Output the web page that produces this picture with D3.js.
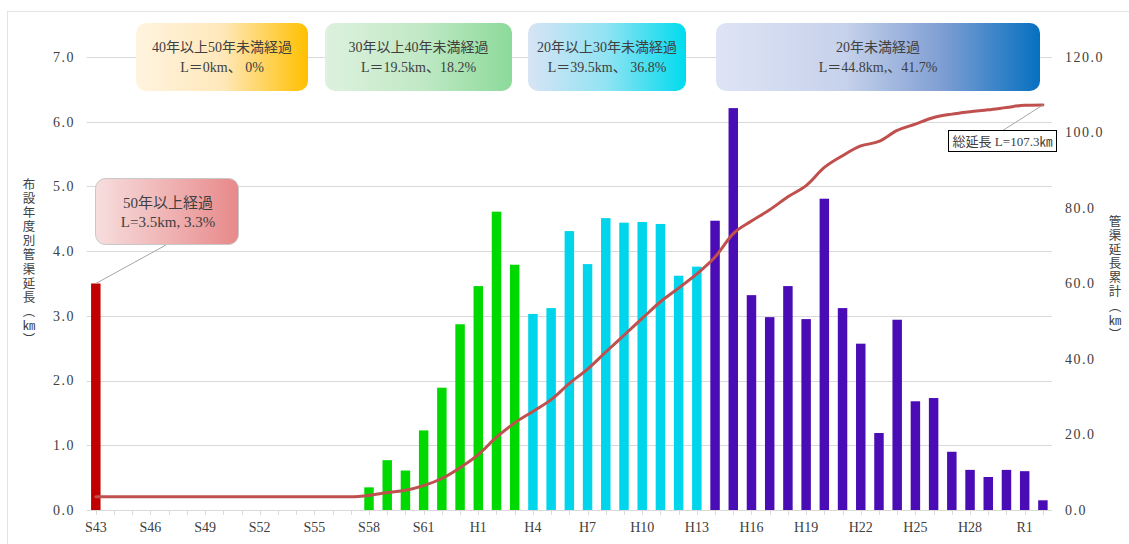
<!DOCTYPE html>
<html><head><meta charset="utf-8">
<script src="https://cdn.jsdelivr.net/npm/d3@7"></script>
<style>
body{margin:0;background:#fff}
svg{display:block}
text{font-family:"Liberation Serif","Noto Sans CJK JP",serif;fill:#404040}
</style>
</head><body>
<svg id="c" width="1129" height="544"></svg>
<script>
// ---- data ----
const categories = ["S43","S44","S45","S46","S47","S48","S49","S50","S51","S52","S53","S54","S55","S56","S57","S58","S59","S60","S61","S62","S63",
  "H1","H2","H3","H4","H5","H6","H7","H8","H9","H10","H11","H12","H13","H14","H15","H16","H17","H18","H19","H20","H21","H22","H23","H24","H25","H26","H27","H28","H29","H30","R1","R2"];
const lengthKm = [3.5,0,0,0,0,0,0,0,0,0,0,0,0,0,0,0.35,0.77,0.61,1.23,1.89,2.87,
  3.46,4.61,3.79,3.03,3.12,4.31,3.80,4.51,4.44,4.45,4.42,3.62,3.76,4.47,6.21,3.32,2.98,3.46,2.95,4.81,3.12,2.57,1.19,2.94,1.68,1.73,0.90,0.62,0.51,0.62,0.60,0.15];
const cumulativeKm = [3.5,3.5,3.5,3.5,3.5,3.5,3.5,3.5,3.5,3.5,3.5,3.5,3.5,3.5,3.5,3.85,4.62,5.23,6.46,8.35,11.22,
  14.68,19.29,23.08,26.11,29.23,33.54,37.34,41.85,46.29,50.74,55.16,58.78,62.54,67.01,73.22,76.54,79.52,82.98,85.93,90.74,93.86,96.43,97.62,100.56,102.24,103.97,104.87,105.49,106.00,106.62,107.22,107.3];
const groupStarts = ["S43","S58","H4","H14"];
const groupColors = ["#C00000","#00D900","#00D5EB","#4A0CB5"];
const leftTicks = [0,1,2,3,4,5,6,7];
const rightTicks = [0,20,40,60,80,100,120];
const leftTitle = "布設年度別管渠延長（㎞）";
const rightTitle = "管渠延長累計（㎞）";
const boxLines = [
  ["40年以上50年未満経過","L＝0km、 0%"],
  ["30年以上40年未満経過","L＝19.5km、18.2%"],
  ["20年以上30年未満経過","L＝39.5km、 36.8%"],
  ["20年未満経過","L＝44.8km,、41.7%"]
];
const over50Lines = ["50年以上経過","L=3.5km, 3.3%"];
const totalLabel = "総延長 L=107.3㎞";

// ---- layout ----
const svg = d3.select("#c");
const W = 1129, H = 544;
const pL = 86.7, pR = 1052, pT = 57, pB = 510;

svg.append("rect").attr("x",7.5).attr("y",11.5).attr("width",W).attr("height",H)
  .attr("fill","none").attr("stroke","#e4e4e4");

const x = d3.scaleBand().domain(categories).range([pL,pR]).paddingInner(0.48).paddingOuter(0.24);
const yL = d3.scaleLinear().domain([0,7]).range([pB,pT]);
const yR = d3.scaleLinear().domain([0,120]).range([pB,pT]);
const cx = c => x(c) + x.bandwidth()/2;

// gridlines
svg.append("g").selectAll("line").data(leftTicks).join("line")
  .attr("x1",pL).attr("x2",pR).attr("y1",d=>Math.round(yL(d))+0.5).attr("y2",d=>Math.round(yL(d))+0.5)
  .attr("stroke","#d9d9d9").attr("stroke-width",1);

// x ticks
svg.append("g").selectAll("line").data(categories).join("line")
  .attr("x1",d=>Math.round(cx(d))+0.5).attr("x2",d=>Math.round(cx(d))+0.5)
  .attr("y1",pB).attr("y2",pB+5).attr("stroke","#d9d9d9");

// left axis labels
svg.append("g").selectAll("text").data(leftTicks).join("text")
  .attr("x",75).attr("y",d=>yL(d)).attr("dy","0.35em").attr("text-anchor","end")
  .attr("font-size",14).attr("letter-spacing","1.5px").text(d=>d3.format(".1f")(d));
// right axis labels
svg.append("g").selectAll("text").data(rightTicks).join("text")
  .attr("x",1065).attr("y",d=>yR(d)).attr("dy","0.35em").attr("text-anchor","start")
  .attr("font-size",14).attr("letter-spacing","1.5px").text(d=>d3.format(".1f")(d));
// x labels
svg.append("g").selectAll("text").data(categories.filter((c,i)=>i%3===0)).join("text")
  .attr("x",d=>cx(d)).attr("y",532).attr("text-anchor","middle")
  .attr("font-size",14).text(d=>d);

// axis titles (vertical writing)
function vTitle(str, xc, yTop){
  svg.append("text").attr("x",xc).attr("y",yTop)
    .style("writing-mode","vertical-rl")
    .style("font-family","'Noto Sans CJK JP',sans-serif")
    .attr("font-size",12.5).attr("letter-spacing","1.6px").text(str);
}
vTitle(leftTitle, 29, 178);
vTitle(rightTitle, 1115, 215);

// bars
const gi = categories.map((c,i)=>{let g=0; groupStarts.forEach((s,k)=>{if(i>=categories.indexOf(s)) g=k;}); return g;});
svg.append("g").selectAll("rect").data(categories).join("rect")
  .attr("x",d=>x(d)).attr("width",x.bandwidth())
  .attr("y",(d,i)=>yL(lengthKm[i])).attr("height",(d,i)=>pB-yL(lengthKm[i]))
  .attr("fill",(d,i)=>groupColors[gi[i]]);

// cumulative line
const line = d3.line().x((d,i)=>cx(categories[i])).y(d=>yR(d)).curve(d3.curveMonotoneX);
svg.append("path").datum(cumulativeKm).attr("d",line).attr("fill","none")
  .attr("stroke","#C0504D").attr("stroke-width",3).attr("stroke-linejoin","round").attr("stroke-linecap","round");

// gradients
const defs = svg.append("defs");
function grad(id, stops){
  const g = defs.append("linearGradient").attr("id",id).attr("x1","0").attr("x2","1").attr("y1","0").attr("y2","0");
  stops.forEach(s=>g.append("stop").attr("offset",s[0]).attr("stop-color",s[1]));
}
grad("gA",[[0,"#FFF4DF"],[0.5,"#FFE8BB"],[1,"#FFC000"]]);
grad("gB",[[0,"#DDF1DE"],[0.5,"#C2E9C6"],[1,"#8CDA9A"]]);
grad("gC",[[0,"#D8E4F5"],[0.5,"#8FE3F3"],[1,"#00DBEE"]]);
grad("gD",[[0,"#DEE4F5"],[0.4,"#C6D1EB"],[0.7,"#7E9ED3"],[1,"#0570C0"]]);
grad("gE",[[0,"#F7DEDE"],[1,"#E8898A"]]);

const boxes = [
  {x:136,y:23,w:172,h:68,g:"gA"},
  {x:325,y:23,w:187,h:68,g:"gB"},
  {x:528,y:23,w:158,h:68,g:"gC"},
  {x:716,y:23,w:324,h:68,g:"gD"}
];
boxes.forEach((b,i)=>{
  svg.append("rect").attr("x",b.x).attr("y",b.y).attr("width",b.w).attr("height",b.h)
    .attr("rx",10).attr("fill",`url(#${b.g})`);
  boxLines[i].forEach((t,k)=>{
    svg.append("text").attr("x",b.x+b.w/2).attr("y",b.y+24+k*20).attr("dy","0.35em")
      .attr("text-anchor","middle").attr("font-size",14).attr("fill","#404040").text(t);
  });
});

// 50年以上 callout
svg.append("line").attr("x1",166).attr("y1",245).attr("x2",cx("S43")).attr("y2",yL(lengthKm[0]))
  .attr("stroke","#a6a6a6");
svg.append("rect").attr("x",95.5).attr("y",178.5).attr("width",143).attr("height",66)
  .attr("rx",10).attr("fill","url(#gE)").attr("stroke","#c8c8c8");
over50Lines.forEach((t,k)=>{
  svg.append("text").attr("x",168).attr("y",203+k*19).attr("dy","0.35em")
    .attr("text-anchor","middle").attr("font-size",15).text(t);
});

// total callout
const lastC = categories[categories.length-1];
svg.append("line").attr("x1",1002).attr("y1",131).attr("x2",cx(lastC)).attr("y2",yR(cumulativeKm[cumulativeKm.length-1]))
  .attr("stroke","#a6a6a6");
svg.append("rect").attr("x",948.5).attr("y",130.5).attr("width",108).attr("height",21)
  .attr("fill","#fff").attr("stroke","#000");
svg.append("text").attr("x",1002.5).attr("y",141.5).attr("dy","0.35em").attr("text-anchor","middle")
  .attr("font-size",13).text(totalLabel);
</script>
</body></html>
